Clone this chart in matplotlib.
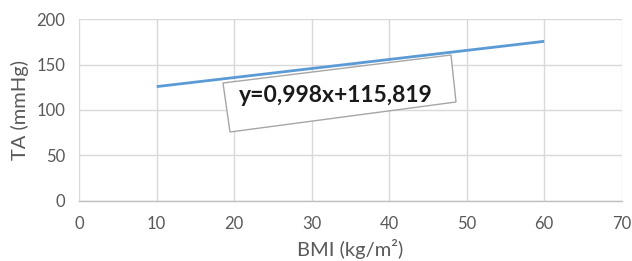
import numpy as np
import matplotlib.pyplot as plt
from matplotlib.patches import Polygon

plt.rcParams['font.family'] = ['Lato', 'DejaVu Sans']

# Datos de la recta de regresión
bmi = [10, 60]
pendiente = 0.998
intercepto = 115.819
ta = [pendiente * x + intercepto for x in bmi]
ecuacion = 'y=0,998x+115,819'

x_ticks = [0, 10, 20, 30, 40, 50, 60, 70]
y_ticks = [0, 50, 100, 150, 200]

W, H = 632, 261
fig = plt.figure(figsize=(W / 100, H / 100), dpi=100)
ax = fig.add_axes([79.2 / W, 1 - 200.7 / H, (621.7 - 79.2) / W, (200.7 - 19.3) / H])

ax.plot(bmi, ta, color='#5b9bd5', linewidth=2, solid_capstyle='butt')

ax.set_xlim(0, 70)
ax.set_ylim(0, 200)
ax.set_xticks(x_ticks)
ax.set_yticks(y_ticks)
ax.grid(True, color='#d9d9d9', linewidth=1)
ax.set_axisbelow(True)
for s in ['top', 'right', 'left']:
    ax.spines[s].set_visible(False)
ax.spines['bottom'].set_color('#bfbfbf')
ax.spines['bottom'].set_linewidth(1)
ax.tick_params(length=0, colors='#595959', labelsize=12)
ax.tick_params(axis='x', pad=11)
ax.tick_params(axis='y', pad=10)
ax.set_xlabel('BMI (kg/m²)', fontsize=14.5, color='#595959', labelpad=5)
ax.set_ylabel('TA (mmHg)', fontsize=14.5, color='#595959', labelpad=5)

# Cuadro de la ecuación (ligeramente girado)
esquinas = [(223, 83), (451, 55), (456, 102), (230, 132)]
poly = Polygon([(x / W, 1 - y / H) for x, y in esquinas], closed=True,
               transform=fig.transFigure, facecolor='white', edgecolor='#a6a6a6',
               linewidth=1, zorder=5)
fig.patches.append(poly)
fig.text(336 / W, 1 - 95 / H, ecuacion, ha='center', va='center',
         fontsize=16.5, fontweight='bold', color='#1a1a1a', zorder=6)

fig.savefig('out.png', dpi=100)
